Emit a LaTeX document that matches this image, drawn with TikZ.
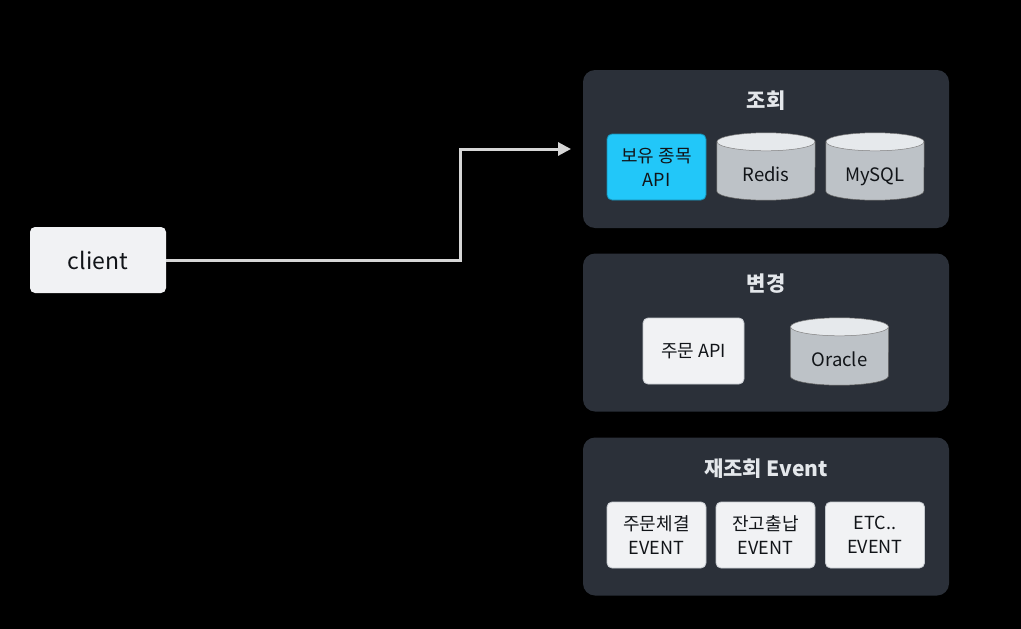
\documentclass[tikz,border=0pt]{standalone}
\usepackage{fontspec}
\newfontfamily\kr{Noto Sans CJK KR}
\usetikzlibrary{arrows.meta,calc}
\pgfdeclarelayer{bgzero}
\pgfdeclarelayer{bgone}
\pgfsetlayers{bgzero,bgone,main}
\definecolor{panelc}{HTML}{2B3039}
\definecolor{titlec}{HTML}{E4E7EB}
\definecolor{cyanc}{HTML}{22C7F9}
\definecolor{boxc}{HTML}{F1F2F4}
\definecolor{boxborder}{HTML}{C5C9CE}
\definecolor{cylbody}{HTML}{BDC2C7}
\definecolor{cyltop}{HTML}{E6E9EC}
\definecolor{linec}{HTML}{D6D6D6}
\definecolor{textc}{HTML}{111418}
\tikzset{
  panel/.style={fill=panelc, rounded corners=12pt, minimum width=366pt, minimum height=158pt, inner sep=0pt},
  ptitle/.style={text=titlec, font=\kr\bfseries\fontsize{21}{24}\selectfont, inner sep=0pt},
  wbox/.style={fill=boxc, draw=boxborder, line width=0.8pt, rounded corners=5pt, minimum width=99pt, minimum height=66pt, inner sep=0pt, align=center, text=textc, font=\kr\fontsize{18}{24}\selectfont},
  cbox/.style={wbox, fill=cyanc, draw=cyanc!70!black},
  cylnode/.style={minimum width=98pt, minimum height=58pt, inner sep=0pt, text height=24pt, text depth=3pt, text=textc, font=\kr\fontsize{18.5}{24}\selectfont},
  conn/.style={draw=linec, line width=3pt, -{Triangle[length=13pt,width=13pt]}},
}
\newcommand\drawcyl[1]{%
  \begin{pgfonlayer}{bgone}
  \path[fill=cylbody, draw=black!60, line width=0.5pt] (#1.north west) -- ([yshift=9pt]#1.south west) arc[start angle=180, end angle=360, x radius=49pt, y radius=9pt] -- (#1.north east) -- cycle;
  \path[fill=cyltop, draw=black!50, line width=0.5pt] (#1.north) ellipse [x radius=49pt, y radius=9pt];
  \end{pgfonlayer}}
\begin{document}
\begin{tikzpicture}[x=1pt,y=1pt]
\begin{pgfonlayer}{bgzero}
\path[fill=black] (0,0) rectangle (1021,-629);
\end{pgfonlayer}
\useasboundingbox (0,0) rectangle (1021,-629);

% client
\node[wbox, draw=none, fill=boxc, minimum width=136pt, minimum height=66pt, font=\kr\fontsize{23}{26}\selectfont] (client) at (98,-260) {client};

% panels
\begin{pgfonlayer}{bgzero}
\node[panel] (p1) at (766,-149) {};
\node[panel] (p2) at (766,-332.5) {};
\node[panel] (p3) at (766,-516.5) {};
\end{pgfonlayer}
\node[ptitle] (t1) at (766,-101) {조회};
\node[ptitle] (t2) at (766,-284) {변경};
\node[ptitle] (t3) at (766,-469) {재조회 Event};

% panel 1
\node[cbox] (holding) at (656.5,-167) {보유 종목\\API};
\node[cylnode] (redis) at (766,-171) {Redis};
\node[cylnode] (mysql) at (875,-171) {MySQL};
\drawcyl{redis}
\drawcyl{mysql}

% panel 2
\node[wbox, minimum width=101pt] (order) at (693.5,-351) {주문 API};
\node[cylnode] (oracle) at (839.5,-356) {Oracle};
\drawcyl{oracle}

% panel 3
\node[wbox] (ev1) at (656.5,-535) {주문체결\\EVENT};
\node[wbox] (ev2) at (765.5,-535) {잔고출납\\EVENT};
\node[wbox] (ev3) at (875,-535) {ETC..\\EVENT};

% connector
\coordinate (mid) at (460,-200);
\coordinate (tip) at (571,-149);
\draw[conn] (client.east) -| (mid) |- (tip);
\end{tikzpicture}
\end{document}
